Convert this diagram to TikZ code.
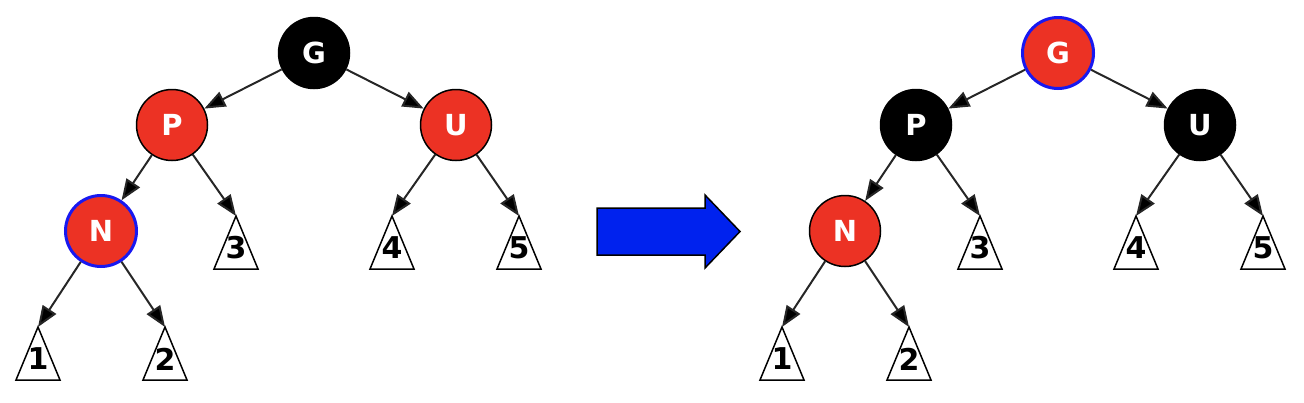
\documentclass[tikz,border=0pt]{standalone}
\usepackage{fontspec}
\setmainfont{DejaVu Sans}
\usetikzlibrary{arrows.meta,positioning}
\definecolor{nodered}{RGB}{236,50,36}
\definecolor{markblue}{RGB}{24,24,240}
\definecolor{arrowblue}{RGB}{0,34,238}

\begin{document}
\begin{tikzpicture}[x=1pt,y=1pt,>={Triangle[length=21pt,width=16pt]},on grid,line width=2pt,
                        main node/.style={circle,draw=black,line width=1.5pt,minimum size=71pt,inner sep=0pt,
                          text=white,font=\fontsize{29}{29}\selectfont\bfseries},
                        red node/.style={main node,fill=nodered},
                        black node/.style={main node,fill=black},
                        new node/.style={draw=markblue,line width=3pt},
                        leaf/.style={draw,line width=1.5pt,fill=white},
                        leaf label/.style={font=\fontsize{30}{30}\selectfont\bfseries}]

      \useasboundingbox (0,0) rectangle (1304,-402);

      % before
      \node[black node] (1) at (314,-53) {G};
      \node[red node] (2) [below left=72pt and 142pt of 1] {P};
      \node[red node] (3) [below right=72pt and 142pt of 1] {U};
      \node[red node,new node] (4) [below left=106pt and 71pt of 2] {N};
      \coordinate[below right=91pt and 64pt of 2] (5);
      \coordinate[below left=91pt and 64pt of 3] (6);
      \coordinate[below right=91pt and 63pt of 3] (7);
      \coordinate[below left=96pt and 63pt of 4] (8);
      \coordinate[below right=96pt and 64pt of 4] (9);

      % after
      \node[red node,new node] (11) at (1058,-53) {G};
      \node[black node] (12) [below left=72pt and 142pt of 11] {P};
      \node[black node] (13) [below right=72pt and 142pt of 11] {U};
      \node[red node] (14) [below left=106pt and 71pt of 12] {N};
      \coordinate[below right=91pt and 64pt of 12] (15);
      \coordinate[below left=91pt and 64pt of 13] (16);
      \coordinate[below right=91pt and 63pt of 13] (17);
      \coordinate[below left=96pt and 63pt of 14] (18);
      \coordinate[below right=96pt and 64pt of 14] (19);

      % subtrees
      \foreach \t/\d in {8/1,9/2,5/3,6/4,7/5,18/1,19/2,15/3,16/4,17/5} {
        \draw[leaf] (\t) -- ++(-22,-53) -- ++(44,0) -- cycle;
        \node[leaf label] (d\t) at ([yshift=-32pt]\t) {\d};
      }

      \path[->,draw=black!85]
        (1) edge (2)
        (1) edge (3)
        (2) edge (4)
        (2) edge (5)
        (3) edge (6)
        (3) edge (7)
        (4) edge (8)
        (4) edge (9)
        (11) edge (12)
        (11) edge (13)
        (12) edge (14)
        (12) edge (15)
        (13) edge (16)
        (13) edge (17)
        (14) edge (18)
        (14) edge (19);

      % big arrow
      \draw[fill=arrowblue,line width=1.5pt,line join=miter]
        (597,-208) -- (705,-208) -- (705,-195) -- (740,-231.5)
        -- (705,-268) -- (705,-255) -- (597,-255) -- cycle;
    \end{tikzpicture}
\end{document}
